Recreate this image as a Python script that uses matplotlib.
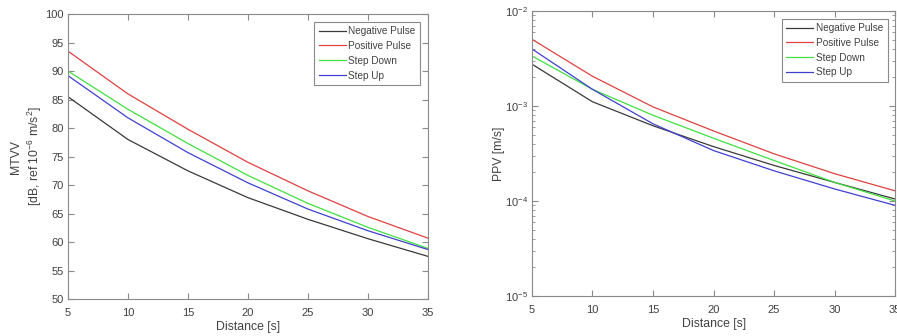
import matplotlib
matplotlib.use("Agg")
import matplotlib.pyplot as plt
from matplotlib.ticker import LogLocator, NullFormatter

plt.rcParams['font.family'] = ['Liberation Sans', 'DejaVu Sans']
plt.rcParams['mathtext.fontset'] = 'custom'
plt.rcParams['mathtext.rm'] = 'Liberation Sans'

distance = [5, 10, 15, 20, 25, 30, 35]
series = ["Negative Pulse", "Positive Pulse", "Step Down", "Step Up"]
colors = ["#3a3a3a", "#e04040", "#40e040", "#4040d0"]

mtvv_neg = [85.5, 78.0, 72.5, 67.8, 64.0, 60.6, 57.5]
mtvv_pos = [93.5, 86.0, 79.8, 74.0, 69.0, 64.5, 60.7]
mtvv_down = [90.0, 83.3, 77.3, 71.7, 66.8, 62.6, 58.9]
mtvv_up = [89.2, 81.8, 75.7, 70.4, 65.8, 62.0, 58.7]

ppv_neg = [2.76e-3, 1.11e-3, 6.2e-4, 3.74e-4, 2.37e-4, 1.57e-4, 1.05e-4]
ppv_pos = [5.05e-3, 2.06e-3, 9.8e-4, 5.47e-4, 3.14e-4, 1.94e-4, 1.28e-4]
ppv_down = [3.37e-3, 1.50e-3, 8.0e-4, 4.58e-4, 2.67e-4, 1.57e-4, 1.0e-4]
ppv_up = [4.0e-3, 1.50e-3, 6.5e-4, 3.4e-4, 2.08e-4, 1.34e-4, 9.0e-5]

txtcol = "#404040"
spinecol = "#8a8a8a"


def style(ax):
    for s in ax.spines.values():
        s.set_color(spinecol)
        s.set_linewidth(0.8)
    ax.tick_params(direction="in", which="both", top=True, right=True,
                   colors=spinecol, labelcolor=txtcol, labelsize=8, length=4, pad=3)
    ax.tick_params(axis="x", pad=6.5)
    ax.tick_params(which="minor", length=2)
    ax.set_xlim(5, 35)
    ax.set_xticks(distance)
    ax.set_xlabel("Distance [s]", fontsize=8.8, color=txtcol, labelpad=2)
    leg = ax.legend(loc="upper right", fontsize=7.2, handlelength=2.7,
                    fancybox=False, framealpha=1, borderaxespad=0.75,
                    labelspacing=0.48, handletextpad=0.25, borderpad=0.45)
    leg.get_frame().set_edgecolor(spinecol)
    leg.get_frame().set_linewidth(0.8)
    for t in leg.get_texts():
        t.set_color(txtcol)


fig = plt.figure(figsize=(8.97, 3.36), dpi=100)

ax1 = fig.add_axes([0.0758, 0.110, 0.401, 0.848])
for vals, name, c in zip([mtvv_neg, mtvv_pos, mtvv_down, mtvv_up], series, colors):
    ax1.plot(distance, vals, color=c, lw=0.9, label=name)
ax1.set_ylim(50, 100)
ax1.set_yticks(range(50, 101, 5))
ax1.set_ylabel("MTVV\n[dB, ref 10$^{-6}$ m/s$^2$]", fontsize=8.8, color=txtcol,
               labelpad=1, linespacing=1.3)
style(ax1)

ax2 = fig.add_axes([0.593, 0.119, 0.405, 0.848])
for vals, name, c in zip([ppv_neg, ppv_pos, ppv_down, ppv_up], series, colors):
    ax2.plot(distance, vals, color=c, lw=0.9, label=name)
ax2.set_yscale("log")
ax2.set_ylim(1e-5, 1e-2)
ax2.yaxis.set_minor_locator(LogLocator(subs=range(2, 10)))
ax2.yaxis.set_minor_formatter(NullFormatter())
ax2.set_ylabel("PPV [m/s]", fontsize=8.8, color=txtcol, labelpad=0)
style(ax2)

fig.savefig("out.png", dpi=100)
